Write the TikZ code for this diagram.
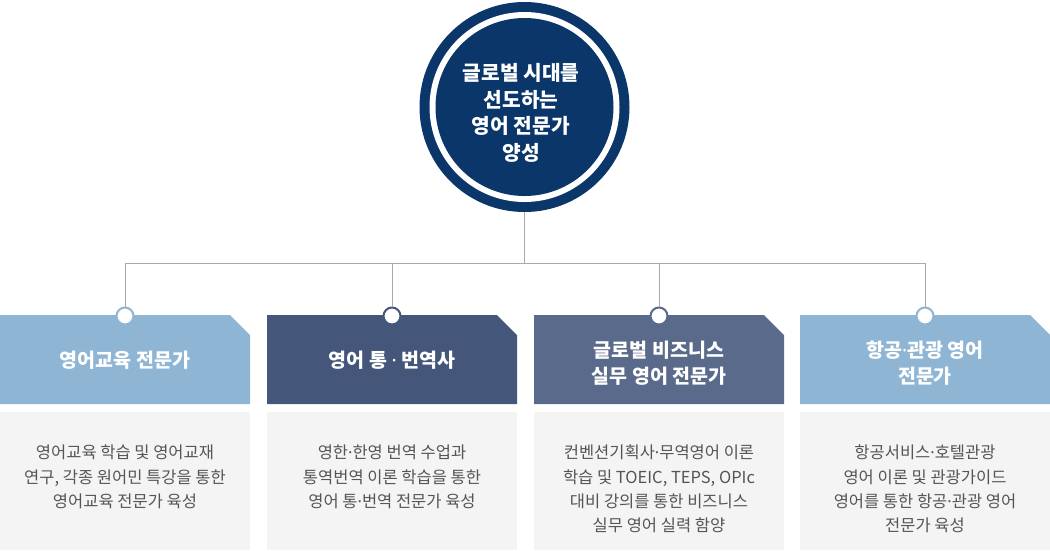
\documentclass[tikz,border=0pt]{standalone}
\usepackage{fontspec}
\setmainfont{Noto Sans CJK KR}
\newfontfamily\dotfont{Noto Sans}
\newcommand{\mdot}{{\dotfont ·}}
\definecolor{navy}{HTML}{0B3669}
\definecolor{hlight}{HTML}{8FB5D4}
\definecolor{hdark}{HTML}{44567A}
\definecolor{hmid}{HTML}{5A6A8B}
\definecolor{descbg}{HTML}{F4F4F4}
\definecolor{desctxt}{HTML}{555555}
\definecolor{linegray}{HTML}{AAAAAA}
\begin{document}
\begin{tikzpicture}[x=1pt,y=-1pt,
  conn/.style={draw=linegray,line width=1pt},
  headtext/.style={text=white,align=center,font=\bfseries\fontsize{19.5}{26}\selectfont,inner sep=0pt},
  desctext/.style={text=desctxt,align=center,font=\fontsize{16.5}{24.2}\selectfont,inner sep=0pt,anchor=north},
  dotc/.style={circle,fill=white,line width=2pt,minimum size=17pt,inner sep=0pt}
]
\useasboundingbox (0,0) rectangle (1050,550);
% main circle
\fill[navy] (524.5,107) circle (105);
\fill[white] (524.5,107) circle (95);
\fill[navy] (524.5,107) circle (89);
\node[circle,minimum size=210pt,inner sep=0pt] (main) at (524.5,107) {};
\node[text=white,align=center,font=\bfseries\fontsize{20.3}{26.7}\selectfont,inner sep=0pt] (maintext) at (521,113) {글로벌 시대를\\선도하는\\영어 전문가\\양성};
% boxes
\newcommand{\catbox}[3]{%
  \fill[#3] (#1,315) -- (#2-20,315) -- (#2,335) -- (#2,404) -- (#1,404) -- cycle;
  \fill[descbg] (#1,412) rectangle (#2,550);
}
\catbox{0}{250}{hlight}
\catbox{267}{517}{hdark}
\catbox{534}{784}{hmid}
\catbox{800}{1050}{hlight}
\node[headtext] (h1) at (125,360) {영어교육 전문가};
\node[headtext] (h2) at (392,360) {영어 통 \mdot{} 번역사};
\node[headtext] (h3) at (659,363) {글로벌 비즈니스\\실무 영어 전문가};
\node[headtext] (h4) at (925,363) {항공\mdot{}관광 영어\\전문가};
\node[desctext] (d1) at (125,445) {영어교육 학습 및 영어교재\\연구, 각종 원어민 특강을 통한\\영어교육 전문가 육성};
\node[desctext] (d2) at (392,445) {영한\mdot{}한영 번역 수업과\\통역번역 이론 학습을 통한\\영어 통\mdot{}번역 전문가 육성};
\node[desctext] (d3) at (659,445) {컨벤션기획사\mdot{}무역영어 이론\\학습 및 TOEIC, TEPS, OPIc\\대비 강의를 통한 비즈니스\\실무 영어 실력 함양};
\node[desctext] (d4) at (925,445) {항공서비스\mdot{}호텔관광\\영어 이론 및 관광가이드\\영어를 통한 항공\mdot{}관광 영어\\전문가 육성};
% connectors
\coordinate (junc) at (524.5,263);
\node[dotc,draw=hlight] (c1) at (125,316) {};
\node[dotc,draw=hdark] (c2) at (392,316) {};
\node[dotc,draw=hmid] (c3) at (659,316) {};
\node[dotc,draw=hlight] (c4) at (925,316) {};
\draw[conn] (main.south) -- (junc);
\draw[conn] (junc) -| (c1.north);
\draw[conn] (junc) -| (c2.north);
\draw[conn] (junc) -| (c3.north);
\draw[conn] (junc) -| (c4.north);
\end{tikzpicture}
\end{document}
